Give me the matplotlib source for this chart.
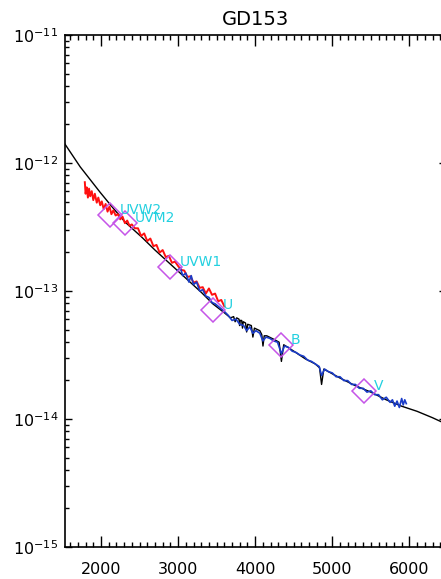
import numpy as np
import matplotlib
matplotlib.use('Agg')
import matplotlib.pyplot as plt
from matplotlib.ticker import MultipleLocator, FixedLocator, NullFormatter

# model spectrum (wavelength in A, log10 flux)
model_wave = [1530, 1730, 1990, 2140, 2310, 2530, 2700, 2900, 3100, 3300, 3450, 3600,
              3680, 3720, 3740, 3760, 3790, 3798, 3806, 3825, 3835, 3845, 3875, 3889,
              3903, 3950, 3970, 3990, 4060, 4085, 4101, 4117, 4150, 4250, 4310, 4340,
              4370, 4450, 4550, 4650, 4780, 4835, 4861, 4890, 4950, 5100, 5300, 5500,
              5700, 5900, 6100, 6300, 6480]
model_logf = [-11.85, -12.03, -12.23, -12.34, -12.46, -12.58, -12.68, -12.79, -12.90, -13.01, -13.10, -13.17,
              -13.21, -13.20, -13.24, -13.21, -13.22, -13.27, -13.23, -13.23, -13.29, -13.24, -13.25, -13.32,
              -13.26, -13.27, -13.36, -13.29, -13.31, -13.34, -13.43, -13.35, -13.35, -13.38, -13.40, -13.55,
              -13.42, -13.45, -13.49, -13.53, -13.57, -13.60, -13.73, -13.61, -13.63, -13.68, -13.74, -13.79,
              -13.85, -13.90, -13.94, -13.99, -14.04]

# UV grism spectrum
uv_wave = [1790, 1800, 1815, 1830, 1845, 1860, 1880, 1900, 1920, 1945, 1965, 1990, 2010, 2035,
           2060, 2085, 2110, 2135, 2160, 2190, 2220, 2250, 2280, 2310, 2340, 2370, 2400, 2440,
           2480, 2520, 2560, 2600, 2640, 2680, 2720, 2760, 2800, 2840, 2880, 2920, 2960, 3000,
           3040, 3080, 3120, 3160, 3200, 3240, 3280, 3320, 3360, 3400, 3440, 3480, 3520, 3560, 3600]
uv_logf = [-12.15, -12.24, -12.19, -12.27, -12.20, -12.26, -12.22, -12.29, -12.24, -12.31, -12.27, -12.33, -12.30, -12.36,
           -12.32, -12.38, -12.34, -12.40, -12.37, -12.41, -12.40, -12.44, -12.42, -12.47, -12.45, -12.49, -12.48, -12.51,
           -12.51, -12.57, -12.55, -12.61, -12.59, -12.65, -12.64, -12.70, -12.68, -12.735, -12.725, -12.78, -12.77, -12.805,
           -12.835, -12.84, -12.89, -12.885, -12.935, -12.925, -12.975, -12.97, -13.02, -12.98, -13.03, -13.02, -13.08, -13.07, -13.12]

# optical grism spectrum
opt_wave = [2990, 3030, 3060, 3100, 3140, 3170, 3200, 3240, 3280, 3320, 3360, 3400, 3440, 3480,
            3520, 3560, 3600, 3650, 3700, 3750, 3800, 3850, 3890, 3930, 3970, 4010, 4060, 4100,
            4140, 4190, 4240, 4290, 4340, 4380, 4430, 4480, 4530, 4580, 4630, 4680, 4730, 4780,
            4830, 4861, 4900, 4950, 5000, 5050, 5100, 5150, 5200, 5250, 5300, 5350, 5400, 5450,
            5500, 5550, 5600, 5650, 5700, 5750, 5780, 5810, 5840, 5870, 5900, 5920, 5940, 5960]
opt_logf = [-12.84, -12.82, -12.88, -12.86, -12.93, -12.88, -12.95, -12.93, -13.00, -12.99, -13.04, -13.05, -13.09, -13.10,
            -13.12, -13.14, -13.16, -13.19, -13.23, -13.22, -13.26, -13.27, -13.31, -13.28, -13.33, -13.31, -13.33, -13.39,
            -13.36, -13.37, -13.39, -13.40, -13.49, -13.43, -13.44, -13.47, -13.48, -13.50, -13.51, -13.54, -13.55, -13.57,
            -13.59, -13.66, -13.61, -13.63, -13.64, -13.67, -13.67, -13.70, -13.70, -13.73, -13.73, -13.76, -13.76, -13.79,
            -13.78, -13.81, -13.81, -13.85, -13.83, -13.87, -13.85, -13.90, -13.86, -13.91, -13.84, -13.89, -13.85, -13.88]

# photometry
filters = ['UVW2', 'UVM2', 'UVW1', 'U', 'B', 'V']
filt_wave = [2117, 2311, 2895, 3453, 4335, 5411]
filt_logf = [-12.41, -12.47, -12.81, -13.15, -13.42, -13.78]

fig = plt.figure(figsize=(4.41, 5.79), dpi=100)
ax = fig.add_axes([65/441, 1-547/579, 381/441, 512/579])

ax.plot(model_wave, 10**np.array(model_logf), color='black', lw=1.0)
ax.plot(uv_wave, 10**np.array(uv_logf), color='#ff1010', lw=1.4)
ax.plot(opt_wave, 10**np.array(opt_logf), color='#1a3cc8', lw=1.2)
ax.plot(filt_wave, 10**np.array(filt_logf), 'D', ms=12, mfc='none', mec='#c555e8', mew=1.1)
for name, w, lf in zip(filters, filt_wave, filt_logf):
    ax.annotate(name, (w, 10**lf), xytext=(10, 1), textcoords='offset pixels',
                color='#22d0e0', fontsize=10, va='baseline', ha='left')

ax.set_yscale('log')
ax.set_xlim(1533, 6475)
ax.set_ylim(1e-15, 1e-11)
ax.xaxis.set_major_locator(MultipleLocator(1000))
ax.xaxis.set_minor_locator(MultipleLocator(100))
ax.yaxis.set_major_locator(FixedLocator([1e-15, 1e-14, 1e-13, 1e-12, 1e-11]))
minors = [m * 10.0**e for e in range(-15, -11) for m in range(2, 10)]
ax.yaxis.set_minor_locator(FixedLocator(minors))
ax.yaxis.set_minor_formatter(NullFormatter())
ax.tick_params(which='both', direction='in', top=True, right=True, width=1, labelsize=11.5)
ax.tick_params(axis='x', which='major', length=8)
ax.tick_params(axis='x', which='minor', length=3.6)
ax.tick_params(axis='y', which='major', length=5)
ax.tick_params(axis='y', which='minor', length=2.8)
ax.tick_params(axis='x', pad=11)
ax.tick_params(axis='y', pad=5)
for s in ax.spines.values():
    s.set_linewidth(1.2)
ax.set_title('GD153', fontsize=14, pad=7)

fig.savefig('out.png', dpi=100)
